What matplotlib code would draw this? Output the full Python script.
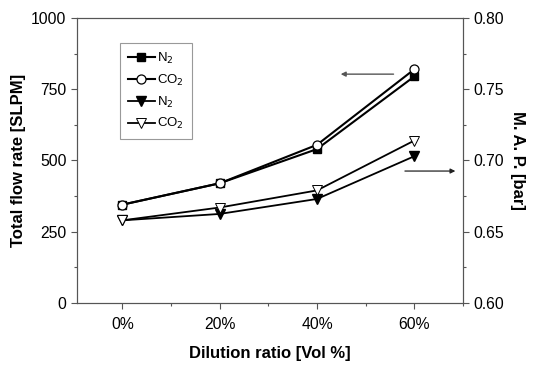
import matplotlib.pyplot as plt
from matplotlib.ticker import MultipleLocator

plt.rcParams['font.family'] = ['Liberation Sans', 'DejaVu Sans']

dilution = [0, 20, 40, 60]
xlabels = ['0%', '20%', '40%', '60%']

flow_n2 = [345, 420, 540, 795]
flow_co2 = [345, 420, 555, 820]
map_n2 = [0.658, 0.6625, 0.673, 0.703]
map_co2 = [0.658, 0.667, 0.679, 0.714]

fig = plt.figure(figsize=(5.34, 3.66), dpi=100)
ax = fig.add_axes([77 / 534, 63 / 366, 386 / 534, 285 / 366])
ax2 = ax.twinx()

l1, = ax.plot(dilution, flow_n2, '-s', color='black', lw=1.5, ms=5.5,
              mfc='black', label='N$_2$')
l2, = ax.plot(dilution, flow_co2, '-o', color='black', lw=1.5, ms=6.5,
              mfc='white', mew=0.9, label='CO$_2$')
l3, = ax2.plot(dilution, map_n2, '-v', color='black', lw=1.3, ms=7.5,
               mfc='black', label='N$_2$')
l4, = ax2.plot(dilution, map_co2, '-v', color='black', lw=1.3, ms=7.5,
               mfc='white', mew=0.7, label='CO$_2$')

ax.set_xlim(-9.3, 70)
ax.set_ylim(0, 1000)
ax2.set_ylim(0.60, 0.80)
ax.set_xticks(dilution)
ax.set_xticklabels(xlabels)
ax.xaxis.set_minor_locator(MultipleLocator(10))
ax.yaxis.set_major_locator(MultipleLocator(250))
ax.yaxis.set_minor_locator(MultipleLocator(125))
ax2.yaxis.set_major_locator(MultipleLocator(0.05))
ax2.yaxis.set_minor_locator(MultipleLocator(0.025))
ax2.set_yticklabels(['%.2f' % v for v in ax2.get_yticks()])

for a in (ax, ax2):
    a.tick_params(which='major', length=4, width=0.8, labelsize=11.3, color='#555555')
    a.tick_params(which='minor', length=2.5, width=0.8, color='#555555')
    for s in a.spines.values():
        s.set_color('#555555')
ax.tick_params(axis='x', pad=6)

ax.set_xlabel('Dilution ratio [Vol %]', fontsize=12, fontweight='bold', labelpad=10)
ax.set_ylabel('Total flow rate [SLPM]', fontsize=12, fontweight='bold', labelpad=4)
ax2.set_ylabel('M. A. P. [bar]', fontsize=12, fontweight='bold', rotation=-90, labelpad=15)

ax.annotate('', xy=(44.3, 803), xytext=(56.3, 803),
            arrowprops=dict(arrowstyle='-|>', color='#555555', lw=1.0, mutation_scale=7))
ax2.annotate('', xy=(69.0, 0.6926), xytext=(57.5, 0.6926),
             arrowprops=dict(arrowstyle='-|>', color='#222222', lw=0.9, mutation_scale=7))

leg = ax.legend(handles=[l1, l2, l3, l4], loc='upper left',
                bbox_to_anchor=(0.095, 0.935), fontsize=9.5, handlelength=2.0,
                handletextpad=0.2, labelspacing=0.5, borderpad=0.6,
                fancybox=False, edgecolor='#999999', framealpha=1)
leg.get_frame().set_linewidth(0.8)

fig.savefig('out.png', dpi=100)
